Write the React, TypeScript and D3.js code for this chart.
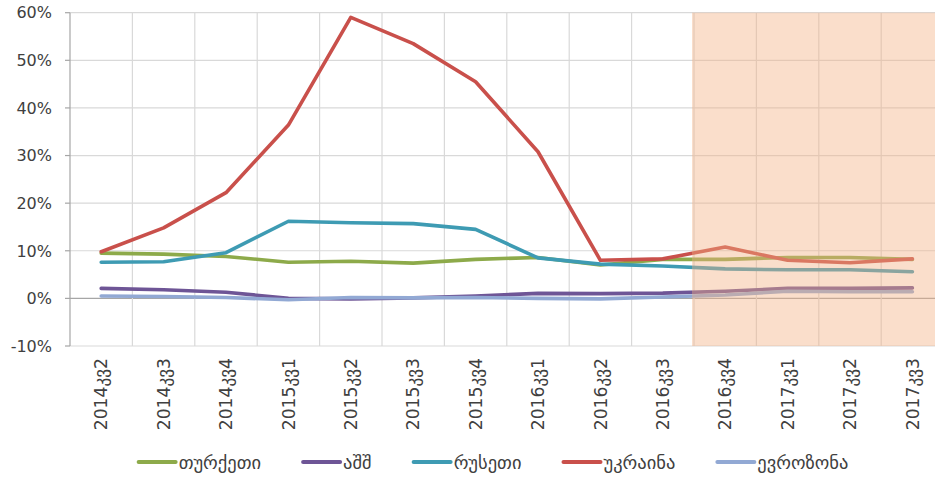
import React from "react";
import * as d3 from "d3";

const categories = [
  "2014კვ2", "2014კვ3", "2014კვ4", "2015კვ1", "2015კვ2", "2015კვ3", "2015კვ4",
  "2016კვ1", "2016კვ2", "2016კვ3", "2016კვ4", "2017კვ1", "2017კვ2", "2017კვ3",
];
const turkey = [9.5, 9.3, 8.8, 7.6, 7.8, 7.4, 8.2, 8.6, 7.0, 8.2, 8.2, 8.6, 8.6, 8.2];
const usa = [2.1, 1.8, 1.3, 0.0, -0.1, 0.1, 0.5, 1.05, 1.0, 1.1, 1.5, 2.1, 2.1, 2.2];
const russia = [7.6, 7.7, 9.6, 16.2, 15.9, 15.7, 14.5, 8.5, 7.2, 6.8, 6.2, 6.0, 6.0, 5.6];
const ukraine = [9.8, 14.8, 22.2, 36.4, 59.0, 53.5, 45.5, 30.8, 8.0, 8.3, 10.8, 8.0, 7.5, 8.3];
const eurozone = [0.5, 0.4, 0.2, -0.3, 0.2, 0.1, 0.2, 0.0, -0.1, 0.3, 0.7, 1.5, 1.4, 1.4];
const seriesNames = ["თურქეთი", "აშშ", "რუსეთი", "უკრაინა", "ევროზონა"];
const seriesValues = [turkey, usa, russia, ukraine, eurozone];
const seriesColors = ["#8DAA4A", "#6E5596", "#3E9BB3", "#C9504B", "#92A9D4"];
const yTicks = [-10, 0, 10, 20, 30, 40, 50, 60];
const shadeStart = "2016კვ4";

const W = 935;
const H = 477;
const FONT = "'DejaVu Sans', sans-serif";

function measure(text: string, size: number): number {
  if (typeof document === "undefined") return text.length * size * 0.6;
  const c = document.createElement("canvas");
  const ctx = c.getContext("2d");
  if (!ctx) return text.length * size * 0.6;
  ctx.font = `${size}px 'DejaVu Sans'`;
  return ctx.measureText(text).width;
}

export default function App() {
  const left = 70;
  const step = 62.4;
  const x = d3
    .scaleBand<string>()
    .domain(categories)
    .range([left, left + step * categories.length])
    .paddingInner(0)
    .paddingOuter(0);
  const bw = x.bandwidth();
  const cx = (c: string) => (x(c) as number) + bw / 2;
  const y = d3.scaleLinear().domain([-10, 60]).range([346, 12.7]);
  const plotRight = W;

  const line = d3
    .line<number>()
    .x((_, i) => cx(categories[i]))
    .y((d) => y(d));

  const legendSize = 18.5;
  const lineLen = 37;
  const textGap = 3;
  const itemGap = 42;
  const widths = seriesNames.map((n) => lineLen + textGap + measure(n, legendSize));
  const total = d3.sum(widths) + itemGap * (seriesNames.length - 1);
  const legendCenter = 493.5;
  let lx = legendCenter - total / 2;
  const legendX = widths.map((w) => {
    const p = lx;
    lx += w + itemGap;
    return p;
  });
  const legendY = 462;

  const shadeX = x(shadeStart) as number;

  return (
    <svg
      width={W}
      height={H}
      style={{ position: "absolute", left: 0, top: 0, background: "#fff" }}
      fontFamily={FONT}
    >
      {yTicks.map((t) => (
        <line
          key={"h" + t}
          x1={left}
          x2={plotRight}
          y1={y(t)}
          y2={y(t)}
          stroke={t === 0 ? "#A6A6A6" : "#D9D9D9"}
          strokeWidth={1.2}
        />
      ))}
      {categories.slice(1).map((c) => (
        <line
          key={"v" + c}
          x1={x(c) as number}
          x2={x(c) as number}
          y1={y(60)}
          y2={y(-10)}
          stroke="#D9D9D9"
          strokeWidth={1.2}
        />
      ))}
      <line x1={left} x2={left} y1={y(60)} y2={y(-10)} stroke="#A6A6A6" strokeWidth={1.2} />
      {yTicks.map((t) => (
        <g key={"t" + t}>
          <line x1={left - 5} x2={left} y1={y(t)} y2={y(t)} stroke="#A6A6A6" strokeWidth={1.2} />
          <text
            x={52}
            y={y(t)}
            dy="0.36em"
            textAnchor="end"
            fontSize={16}
            fill="#404040"
          >
            {t + "%"}
          </text>
        </g>
      ))}
      {categories.map((c) => (
        <text
          key={"x" + c}
          transform={`translate(${cx(c)},358) rotate(-90)`}
          dy="0.36em"
          textAnchor="end"
          fontSize={17.2}
          fill="#404040"
        >
          {c}
        </text>
      ))}
      {seriesValues.map((vals, i) => (
        <path
          key={"s" + i}
          d={line(vals) || ""}
          fill="none"
          stroke={seriesColors[i]}
          strokeWidth={3.6}
          strokeLinejoin="round"
          strokeLinecap="round"
        />
      ))}
      <rect
        x={shadeX - 2}
        y={y(60)}
        width={plotRight - shadeX + 2}
        height={y(-10) - y(60)}
        fill="#F4B183"
        fillOpacity={0.42}
      />
      {seriesNames.map((n, i) => (
        <g key={"l" + i}>
          <line
            x1={legendX[i]}
            x2={legendX[i] + lineLen}
            y1={legendY}
            y2={legendY}
            stroke={seriesColors[i]}
            strokeWidth={4}
            strokeLinecap="round"
          />
          <text
            x={legendX[i] + lineLen + textGap}
            y={legendY}
            dy="0.36em"
            fontSize={legendSize}
            fill="#404040"
          >
            {n}
          </text>
        </g>
      ))}
    </svg>
  );
}
